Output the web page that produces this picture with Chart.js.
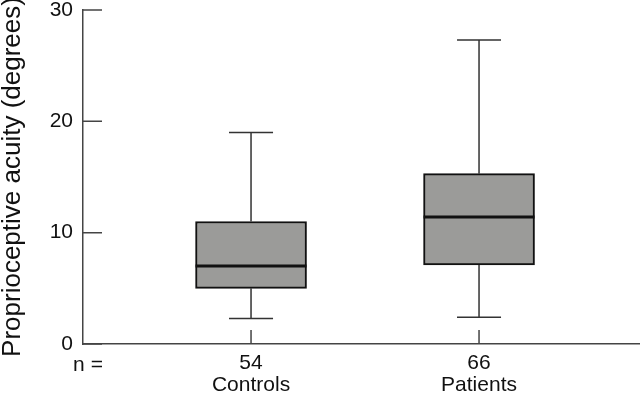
<!DOCTYPE html>
<html lang="en">
<head>
    <meta charset="UTF-8" />
    <title>Proprioceptive acuity</title>
    <script src="https://cdn.jsdelivr.net/npm/chart.js@4"></script>
    <style>
        body { margin: 0; background: #fff; }
        #wrap { width: 640px; height: 401px; }
    </style>
</head>
<body>
    <div id="wrap"><canvas id="boxChart" width="640" height="401"></canvas></div>

    <script>
        // groups and their sample size
        const groups = ['Controls', 'Patients'];
        const counts = ['54', '66'];
        const positions = [1, 2];

        // box plot summary (degrees)
        const whiskerLow = [2.3, 2.4];
        const q1 = [5.0, 7.1];
        const median = [7.0, 11.4];
        const q3 = [11.0, 15.3];
        const whiskerHigh = [19.0, 27.3];

        const yTicks = [0, 10, 20, 30];

        const FONT = "'Liberation Sans', Arial, Helvetica, sans-serif";

        // whiskers, caps, medians and the inward tick marks
        const boxExtras = {
            id: 'boxExtras',
            afterDatasetsDraw(chart) {
                const ctx = chart.ctx;
                const xs = chart.scales.x;
                const ys = chart.scales.y;
                const area = chart.chartArea;
                const bars = chart.getDatasetMeta(0).data;

                ctx.save();
                positions.forEach((p, i) => {
                    const x = xs.getPixelForValue(p);
                    const half = bars[i].width / 2;

                    ctx.strokeStyle = '#333';
                    ctx.lineWidth = 1.5;
                    ctx.beginPath();
                    ctx.moveTo(x, ys.getPixelForValue(q3[i]));
                    ctx.lineTo(x, ys.getPixelForValue(whiskerHigh[i]));
                    ctx.moveTo(x, ys.getPixelForValue(q1[i]));
                    ctx.lineTo(x, ys.getPixelForValue(whiskerLow[i]));
                    ctx.moveTo(x - 22, ys.getPixelForValue(whiskerHigh[i]));
                    ctx.lineTo(x + 22, ys.getPixelForValue(whiskerHigh[i]));
                    ctx.moveTo(x - 22, ys.getPixelForValue(whiskerLow[i]));
                    ctx.lineTo(x + 22, ys.getPixelForValue(whiskerLow[i]));
                    ctx.stroke();

                    ctx.strokeStyle = '#111';
                    ctx.lineWidth = 3;
                    ctx.beginPath();
                    ctx.moveTo(x - half, ys.getPixelForValue(median[i]));
                    ctx.lineTo(x + half, ys.getPixelForValue(median[i]));
                    ctx.stroke();
                });

                // ticks point into the plot
                ctx.strokeStyle = '#444';
                ctx.lineWidth = 1.5;
                ctx.beginPath();
                ys.ticks.forEach(t => {
                    const y = ys.getPixelForValue(t.value);
                    ctx.moveTo(area.left, y);
                    ctx.lineTo(area.left + 19, y);
                });
                positions.forEach(p => {
                    const x = xs.getPixelForValue(p);
                    ctx.moveTo(x, area.bottom);
                    ctx.lineTo(x, area.bottom - 14);
                });
                ctx.stroke();

                ctx.fillStyle = '#111';
                ctx.font = '21px ' + FONT;
                ctx.textAlign = 'center';
                ctx.textBaseline = 'middle';
                ctx.fillText('n =', area.left + 5, area.bottom + 21);
                ctx.restore();
            }
        };

        const ctx = document.getElementById('boxChart').getContext('2d');
        new Chart(ctx, {
            type: 'bar',
            data: {
                datasets: [{
                    data: positions.map((p, i) => ({ x: p, y: [q1[i], q3[i]] })),
                    backgroundColor: '#9b9b99',
                    borderColor: '#111',
                    borderWidth: 2,
                    borderSkipped: false,
                    barThickness: 111
                }]
            },
            options: {
                responsive: false,
                animation: false,
                layout: { padding: 0 },
                plugins: {
                    legend: { display: false },
                    tooltip: { enabled: false }
                },
                scales: {
                    x: {
                        type: 'linear',
                        offset: false,
                        bounds: 'data',
                        min: 0.263,
                        max: 2.706,
                        grid: { display: false, drawTicks: false, offset: false },
                        border: { color: '#444', width: 1.5 },
                        afterBuildTicks: scale => {
                            scale.ticks = positions.map(v => ({ value: v }));
                        },
                        afterFit: scale => {
                            scale.height = 57;
                            scale.paddingLeft = 0;
                            scale.paddingRight = 0;
                        },
                        ticks: {
                            padding: 8,
                            autoSkip: false,
                            maxRotation: 0,
                            color: '#111',
                            font: { family: FONT, size: 21, lineHeight: 1.05 },
                            callback: v => {
                                const i = positions.indexOf(v);
                                return i < 0 ? '' : [counts[i], groups[i]];
                            }
                        }
                    },
                    y: {
                        min: 0,
                        max: 30,
                        grid: { display: false, drawTicks: false },
                        border: { color: '#444', width: 1.5 },
                        afterBuildTicks: scale => {
                            scale.ticks = yTicks.map(v => ({ value: v }));
                        },
                        afterFit: scale => {
                            scale.width = 83;
                            scale.paddingTop = 10;
                            scale.paddingBottom = 0;
                        },
                        ticks: {
                            padding: 10,
                            color: '#111',
                            font: { family: FONT, size: 21, lineHeight: 0.95 }
                        },
                        title: {
                            display: true,
                            text: 'Proprioceptive acuity (degrees)',
                            color: '#111',
                            padding: 0,
                            font: { family: FONT, size: 26, lineHeight: 1 }
                        }
                    }
                }
            },
            plugins: [boxExtras]
        });
    </script>
</body>
</html>
